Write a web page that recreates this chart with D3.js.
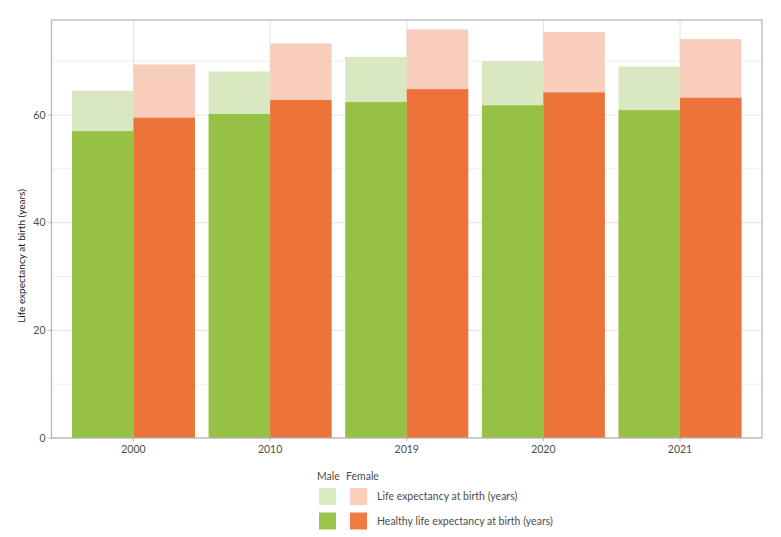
<!DOCTYPE html>
<html lang="en">
<head>
    <meta charset="UTF-8">
    <title>Life expectancy and healthy life expectancy</title>
    <style>
        html, body {
            margin: 0;
            padding: 0;
            background-color: #fff;
            font-family: 'Lato', 'Noto Sans', sans-serif;
        }
        svg text { fill: #4d4d4d; }
    </style>
</head>
<body>
    <div id="chart"></div>
    <script src="https://d3js.org/d3.v7.min.js"></script>
    <script>
        // DATA
        const years = ["2000", "2010", "2019", "2020", "2021"];
        const maleLE = [64.5, 68.1, 70.8, 70.0, 69.0];
        const maleHLE = [57.0, 60.2, 62.4, 61.8, 60.9];
        const femaleLE = [69.4, 73.3, 75.9, 75.4, 74.1];
        const femaleHLE = [59.5, 62.8, 64.8, 64.2, 63.2];
        const yTicks = [0, 20, 40, 60];
        const yMinor = [10, 30, 50, 70];

        const W = 781, H = 537;
        const panel = {left: 51.5, right: 762, top: 20, bottom: 438};

        const svg = d3.select("#chart").append("svg")
            .attr("width", W).attr("height", H);

        // SCALES
        // discrete x: bars take 0.9 of a slot, slots centred with 0.6 expansion
        const x = d3.scalePoint()
            .domain(years)
            .range([panel.left, panel.right])
            .padding(0.6);
        const barW = x.step() * 0.9 / 2;

        const y = d3.scaleLinear()
            .domain([0, 77.65])
            .range([panel.bottom, panel.top]);

        // GRID
        const grid = svg.append("g");
        grid.selectAll(".minor").data(yMinor).enter().append("line")
            .attr("x1", panel.left).attr("x2", panel.right)
            .attr("y1", d => y(d)).attr("y2", d => y(d))
            .style("stroke", "#ebebeb").style("stroke-width", 0.8);
        grid.selectAll(".major").data(yTicks).enter().append("line")
            .attr("x1", panel.left).attr("x2", panel.right)
            .attr("y1", d => y(d)).attr("y2", d => y(d))
            .style("stroke", "#e6e6e6").style("stroke-width", 1.2);
        grid.selectAll(".vx").data(years).enter().append("line")
            .attr("x1", d => x(d)).attr("x2", d => x(d))
            .attr("y1", panel.top).attr("y2", panel.bottom)
            .style("stroke", "#e6e6e6").style("stroke-width", 1.2);

        // BARS
        const series = [
            {vals: maleLE, off: -1, color: "#d9e8c0"},
            {vals: femaleLE, off: 0, color: "#f9cdbc"},
            {vals: maleHLE, off: -1, color: "#96c144"},
            {vals: femaleHLE, off: 0, color: "#ec733a"}
        ];
        series.forEach(s => {
            svg.append("g").selectAll("rect")
                .data(years).enter()
                .append("rect")
                .attr("x", d => x(d) + s.off * barW)
                .attr("width", barW)
                .attr("y", (d, i) => y(s.vals[i]))
                .attr("height", (d, i) => y(0) - y(s.vals[i]))
                .style("fill", s.color);
        });

        // PANEL BORDER
        svg.append("rect")
            .attr("x", panel.left).attr("y", panel.top)
            .attr("width", panel.right - panel.left)
            .attr("height", panel.bottom - panel.top)
            .style("fill", "none").style("stroke", "#b3b3b3").style("stroke-width", 1.2);

        // AXES
        const yAxis = svg.append("g");
        yAxis.selectAll("line").data(yTicks).enter().append("line")
            .attr("x1", panel.left - 3).attr("x2", panel.left)
            .attr("y1", d => y(d)).attr("y2", d => y(d))
            .style("stroke", "#b3b3b3");
        yAxis.selectAll("text").data(yTicks).enter().append("text")
            .attr("x", panel.left - 6).attr("y", d => y(d) + 3.5)
            .attr("text-anchor", "end")
            .style("font-size", "10.5px")
            .text(d => d);

        const xAxis = svg.append("g");
        xAxis.selectAll("line").data(years).enter().append("line")
            .attr("x1", d => x(d)).attr("x2", d => x(d))
            .attr("y1", panel.bottom).attr("y2", panel.bottom + 3)
            .style("stroke", "#b3b3b3");
        xAxis.selectAll("text").data(years).enter().append("text")
            .attr("x", d => x(d)).attr("y", panel.bottom + 15)
            .attr("text-anchor", "middle")
            .style("font-size", "10.5px")
            .text(d => d);

        svg.append("text")
            .attr("transform", "translate(25,256) rotate(-90)")
            .attr("text-anchor", "middle")
            .style("font-size", "10px")
            .style("fill", "#1a1a1a")
            .text("Life expectancy at birth (years)");

        // LEGEND
        const legend = svg.append("g").style("font-size", "10.5px");
        legend.append("text").attr("x", 317).attr("y", 480).text("Male");
        legend.append("text").attr("x", 346).attr("y", 480).text("Female");
        const rows = [
            {label: "Life expectancy at birth (years)", cols: ["#dcebc1", "#fbcdbb"], y: 488},
            {label: "Healthy life expectancy at birth (years)", cols: ["#9ac64b", "#f07a44"], y: 512.5}
        ];
        rows.forEach(r => {
            legend.append("rect").attr("x", 319).attr("y", r.y)
                .attr("width", 17).attr("height", 17).style("fill", r.cols[0]);
            legend.append("rect").attr("x", 350).attr("y", r.y)
                .attr("width", 17).attr("height", 17).style("fill", r.cols[1]);
            legend.append("text").attr("x", 377).attr("y", r.y + 12).text(r.label);
        });
    </script>
</body>
</html>
